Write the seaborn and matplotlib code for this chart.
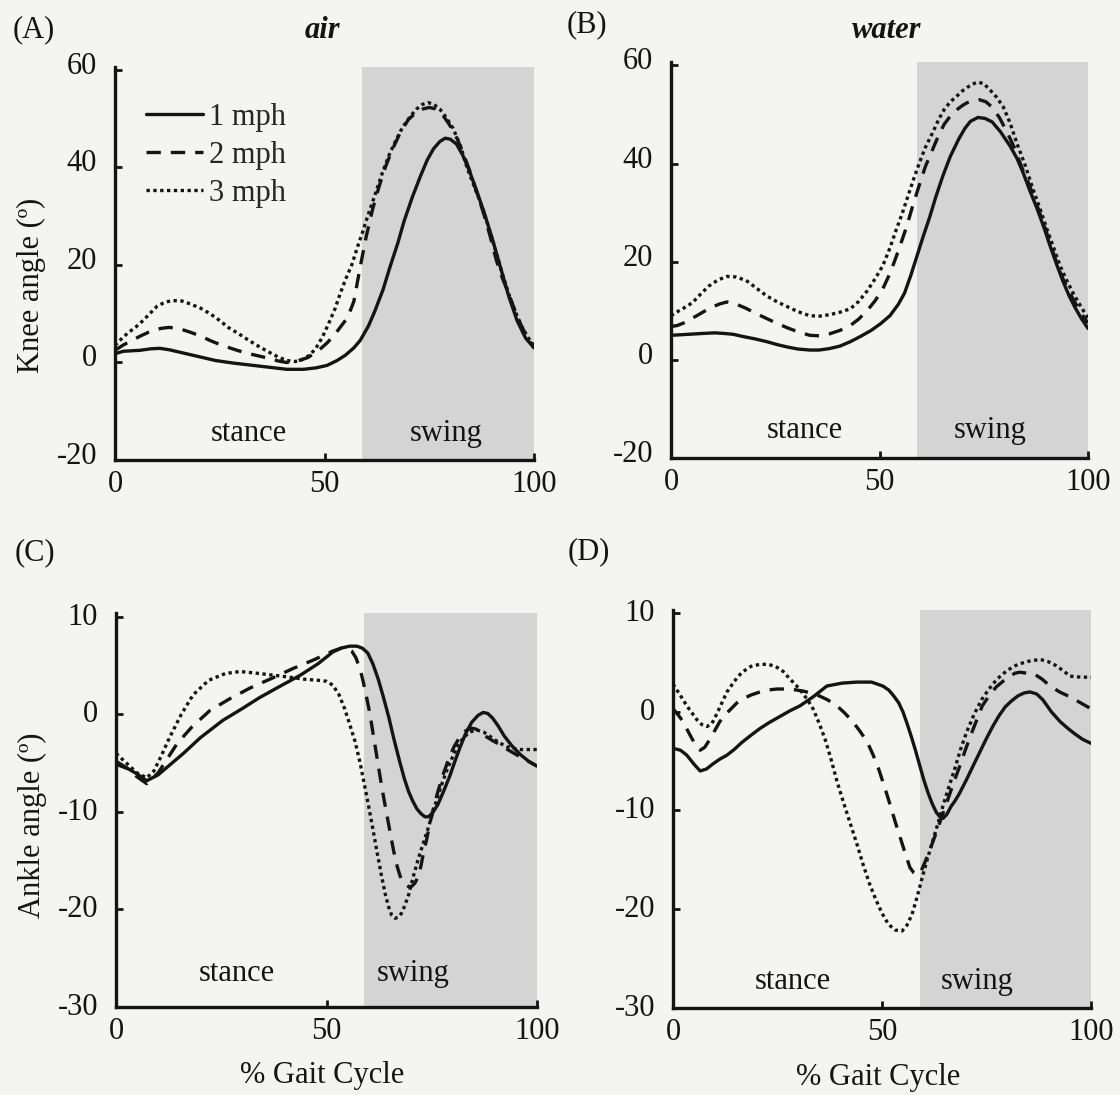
import matplotlib

matplotlib.use("Agg")

import matplotlib.pyplot as plt
import matplotlib.transforms as mtransforms
from matplotlib.lines import Line2D
import pandas as pd
import seaborn as sns

SPEEDS = ["1 mph", "2 mph", "3 mph"]
SWING_START = 59

# knee, air
knee_air_x1 = [0, 2, 4, 6, 8.5, 10.7, 13, 16, 20, 24, 28, 32, 36, 41, 45, 48, 50.6, 53, 55, 57, 58.5, 60.5, 62, 64, 65.6, 67.5, 69, 71, 72.8, 74.5, 76, 77.5, 78.8, 80, 81.5, 83, 84.5, 86.4, 88, 90, 92, 94, 96, 98, 100]
knee_air_y1 = [1.8, 2.3, 2.4, 2.5, 2.8, 2.9, 2.6, 2.0, 1.2, 0.4, -0.1, -0.5, -0.9, -1.4, -1.4, -1.1, -0.6, 0.4, 1.5, 3.0, 4.5, 7.5, 10.5, 15, 19.5, 24.5, 29, 34, 38, 41.5, 43.8, 45.3, 46, 45.8, 44.8, 42.5, 39.5, 35, 31, 25.5, 19.5, 13.5, 8.5, 5, 3]
knee_air_x2 = [0, 2, 4, 6, 8, 11, 13, 15.5, 18, 20.5, 22.7, 25, 27, 29.5, 32, 34.5, 37, 39, 41, 43.5, 46, 48.5, 50.6, 52.5, 54, 55.5, 57, 58.5, 60, 61.5, 63, 64.5, 66, 68, 70, 72, 73.5, 75, 76.5, 78, 79.8, 81.6, 83.3, 85, 86.5, 88, 89.5, 91, 92.5, 94, 95.5, 97, 98.5, 100]
knee_air_y2 = [2.5, 3.6, 4.5, 5.4, 6.2, 7.0, 7.2, 6.9, 6.2, 5.4, 4.5, 3.7, 3.1, 2.4, 1.8, 1.3, 0.8, 0.3, 0, 0.3, 1.0, 2.4, 4, 5.8, 7.5, 9.2, 12.5, 19.5, 26, 31.5, 36, 40, 43.3, 47, 49.8, 51.4, 52, 52.3, 52, 51, 48.8, 46, 42.5, 38.5, 34.5, 30.5, 26, 21, 17.2, 14, 10.5, 7.5, 5, 3]
knee_air_x3 = [0, 1.5, 3, 5, 6.7, 8.5, 10, 12, 13.8, 16, 18, 20.5, 22.7, 25, 27, 29.5, 32, 34.5, 37, 39, 41, 43, 44.5, 46.5, 48, 49.5, 51, 52.5, 53.7, 55, 56.5, 58, 59, 60.3, 61.5, 62.8, 64, 65.5, 67, 68.5, 69.7, 71, 72, 73.3, 74.7, 76, 77.5, 79, 80.7, 82.5, 84, 86, 88, 89.5, 91, 92.5, 94, 95.5, 97, 98.5, 100]
knee_air_y3 = [3.5, 4.8, 6, 7.3, 8.6, 10.2, 11.5, 12.4, 12.7, 12.6, 12, 11.1, 10, 8.6, 7.2, 5.9, 4.5, 3.2, 2.0, 1.1, 0.4, 0.2, 0.5, 1.5, 3, 5.2, 8, 11, 14, 17, 20, 24, 26.5, 30, 33, 36.3, 39.4, 42.7, 45.5, 48, 49.6, 51, 52, 52.9, 53.3, 53, 52, 50.3, 48, 44.3, 40, 35.5, 31, 26.8, 22.5, 18, 14, 10.5, 7.5, 5.2, 3.5]

# knee, water
knee_wat_x1 = [0, 2, 4, 6, 8, 10.5, 12.5, 15, 17, 20, 23, 25.5, 28, 30.5, 33.3, 35.5, 38, 40.5, 43, 45.5, 48, 50.3, 52.5, 54.5, 56, 57.5, 59, 60.5, 62, 63.5, 65.2, 67, 69, 70.5, 71.8, 73.6, 75.3, 77, 79, 81.3, 83, 84.5, 86, 87.8, 89.5, 91, 92.5, 94, 95.5, 97, 98.5, 100]
knee_wat_y1 = [5, 5.1, 5.2, 5.3, 5.4, 5.5, 5.4, 5.2, 4.8, 4.3, 3.7, 3.1, 2.6, 2.2, 2.0, 2.0, 2.3, 2.8, 3.7, 4.8, 6, 7.4, 9, 11.3, 13.6, 17.2, 21.2, 25.2, 29, 33.2, 37.5, 41.5, 45, 47.2, 48.6, 49.4, 49.2, 48.5, 46.5, 43.6, 41, 38, 34.6, 30.8, 26.8, 23, 19.4, 16, 13, 10.5, 8.3, 6.4]
knee_wat_x2 = [0, 1.5, 3, 4.5, 6.2, 8, 10, 11.7, 13.4, 15.5, 18, 20.5, 23, 25.5, 28, 30.5, 33.3, 35.5, 38, 40.5, 43, 45, 47, 49, 50.8, 52.5, 54, 55.4, 56.6, 58, 59.5, 61, 62.8, 64.2, 65.5, 67, 68.6, 70, 71, 72.5, 74, 75.5, 77, 78.8, 80.6, 82.3, 84, 86, 87.8, 89.5, 91, 92.5, 94, 95.5, 97, 98.5, 100]
knee_wat_y2 = [6.8, 7.0, 7.5, 8.2, 9, 9.9, 10.8, 11.4, 11.8, 11.4, 10.5, 9.4, 8.4, 7.4, 6.5, 5.7, 5, 4.9, 5.3, 6.0, 7, 8.3, 10, 12.1, 14.5, 17.6, 21, 24.4, 27.4, 31.5, 35.5, 39.4, 43, 45.8, 48, 49.7, 51, 51.9, 52.4, 52.8, 53, 52.6, 51.5, 49.3, 46.4, 43.3, 39.5, 35.5, 31.4, 27.4, 23.5, 19.8, 16.5, 13.8, 11.5, 9.3, 7.5]
knee_wat_x3 = [0, 1.3, 2.5, 4, 5.3, 7, 9, 11.3, 13.4, 15.5, 18, 20.5, 23, 25.5, 28, 30.5, 33.3, 35.5, 38, 40.5, 43, 45, 47, 49, 50.8, 52.5, 54, 55.4, 56.6, 58, 59.5, 61, 62.8, 64.2, 65.5, 67, 68.6, 70, 71, 72.3, 73.6, 75, 76.5, 78, 79.6, 81.3, 83, 85, 86.8, 88.5, 90, 91.7, 93.3, 95, 96.5, 98.2, 100]
knee_wat_y3 = [9, 9.7, 10.3, 11, 11.8, 13.3, 15, 16.3, 17, 16.9, 16.2, 14.6, 13, 11.8, 10.8, 9.8, 9, 8.9, 9.2, 9.7, 10.4, 11.9, 14, 16.6, 19.2, 22.8, 26.5, 29.7, 32.8, 36.4, 40, 43.3, 46.4, 49, 51, 52.6, 53.8, 54.9, 55.5, 56.2, 56.6, 56.3, 55, 53.6, 51.7, 48.3, 44, 39.5, 34.8, 30.8, 27, 23, 19.2, 16, 13.5, 11, 8.5]

# ankle, air
ank_air_x1 = [0, 3, 5, 7.3, 10, 13, 16, 20, 25.4, 30, 34, 39, 43.7, 48, 51.5, 53.5, 55.5, 57.2, 58.5, 59.8, 61, 62.3, 63.5, 64.8, 66, 67.3, 68.5, 69.5, 70.5, 71.5, 72.5, 73.4, 74.2, 75.2, 76.5, 77.8, 79.3, 80.5, 81.7, 83, 84.5, 86, 87.2, 88.3, 89.5, 90.8, 92.2, 94, 96, 98, 100]
ank_air_y1 = [-5.1, -5.6, -6.1, -6.8, -6.2, -5.1, -4, -2.4, -0.6, 0.6, 1.7, 2.9, 4, 5.2, 6.4, 6.8, 7.0, 7.0, 6.8, 6.3, 5.2, 3.6, 1.8, -0.3, -2.5, -4.7, -6.6, -7.9, -8.9, -9.7, -10.2, -10.5, -10.5, -10.1, -9.2, -7.9, -6.3, -4.8, -3.4, -2.0, -0.8, -0.1, 0.2, 0.1, -0.4, -1.2, -2.2, -3.2, -4.1, -4.8, -5.3]
ank_air_x2 = [0, 3, 5, 7.3, 10, 14.5, 18, 22.3, 27, 31.8, 37, 42, 47, 51.5, 53.5, 54.8, 56, 57, 58, 58.7, 59.5, 60.3, 61, 61.8, 62.5, 63.4, 64.3, 65.2, 66, 66.8, 67.5, 68.3, 69, 69.7, 70.3, 71, 71.8, 72.4, 73, 73.8, 74.5, 75.3, 76.2, 77.5, 79, 80.3, 81.7, 83, 84.3, 85.5, 86.5, 88, 89.5, 91.2, 93, 95, 97.5, 100]
ank_air_y2 = [-4.8, -5.6, -6.4, -7.1, -6, -3, -1.3, 0.4, 1.6, 2.7, 3.7, 4.7, 5.6, 6.5, 6.8, 6.8, 6.5, 5.8, 4.6, 3.4, 1.8, 0.1, -1.8, -3.9, -5.8, -8.1, -10.2, -12.3, -14.1, -15.6, -16.6, -17.2, -17.5, -17.7, -17.6, -17.3, -16.6, -15.6, -14.3, -12.8, -11.3, -9.8, -8.3, -6.4, -4.6, -3.3, -2.3, -1.7, -1.4, -1.5, -1.8, -2.3, -2.7, -3.1, -3.6, -4.1, -4.7, -5.3]
ank_air_x3 = [0, 3, 5, 7.3, 9, 10.7, 12.8, 15.5, 18.3, 22, 26, 29.5, 34, 39.7, 45, 48, 50, 51.5, 53, 54.3, 55.5, 56.8, 58, 59, 60, 61, 62, 63, 64, 64.8, 65.5, 66.3, 67, 67.8, 68.5, 69.5, 70.5, 71.8, 73, 74.2, 75.3, 76.5, 77.5, 78.7, 80, 81.2, 82.5, 84, 85.7, 87.3, 89, 91, 92.8, 94.5, 96, 98, 100]
ank_air_y3 = [-4, -5.2, -6, -6.5, -5.8, -4.3, -2.3, 0, 2, 3.5, 4.2, 4.4, 4.2, 3.9, 3.6, 3.5, 3.4, 3.0, 2.0, 0.6, -1.0, -2.8, -5, -7.2, -9.4, -11.7, -14.1, -16.4, -18.5, -19.8, -20.6, -20.9, -20.8, -20.4, -19.7, -18.5, -16.8, -14.8, -13.2, -11.6, -10, -8.3, -7, -5.6, -4.3, -3.2, -2.4, -1.8, -1.6, -1.8, -2.3, -2.9, -3.3, -3.5, -3.6, -3.6, -3.6]

# ankle, water
ank_wat_x1 = [0, 1.8, 3.3, 5, 6.5, 8, 9.5, 11.2, 12.9, 14.7, 16.5, 18.6, 20.8, 23, 25.5, 28, 30.4, 33.5, 36.8, 40.5, 44, 47.5, 50.2, 51.6, 52.8, 54, 55, 56, 57, 58, 59, 60, 61, 62, 63, 63.8, 64.6, 65.5, 66.5, 67.5, 68.5, 70.3, 72, 73.5, 75, 76.6, 78, 79.5, 81, 82.5, 84, 85.4, 87, 88.5, 90.5, 92.6, 94.5, 96, 98, 100]
ank_wat_y1 = [-3.7, -3.9, -4.4, -5.3, -6, -5.8, -5.3, -4.8, -4.4, -3.8, -3.1, -2.4, -1.7, -1.1, -0.5, 0.1, 0.6, 1.5, 2.6, 2.9, 3, 3, 2.6, 2.2, 1.6, 0.9, 0, -1.2, -2.5, -3.9, -5.4, -6.9, -8.2, -9.3, -10.2, -10.6, -10.8, -10.4, -9.6, -9, -8.3, -6.8, -5.3, -4, -2.7, -1.4, -0.4, 0.5, 1.1, 1.6, 1.9, 2, 1.8, 1.2, 0, -1, -1.7, -2.2, -2.8, -3.2]
ank_wat_x2 = [0, 1.2, 2.4, 3.5, 4.5, 5.5, 6.5, 7.6, 8.8, 10, 11.2, 12.5, 13.9, 15.3, 16.7, 18.7, 20.8, 22.8, 24.9, 28, 31, 33, 35, 37, 39.2, 41, 42.8, 44.6, 46.4, 47.8, 49.2, 50.6, 52, 53.2, 54.4, 55.6, 56.7, 57.6, 58.4, 59.4, 60.5, 61.8, 63.1, 64.5, 65.9, 67.3, 68.7, 70, 71.3, 72.7, 74, 75.6, 77.3, 79, 80.6, 81.8, 83, 84.7, 86.5, 88.3, 90.2, 92.5, 95, 97.5, 100]
ank_wat_y2 = [0.3, -0.3, -1, -1.9, -2.7, -3.4, -3.9, -3.6, -2.8, -1.9, -1, -0.3, 0.3, 0.9, 1.3, 1.7, 2, 2.2, 2.3, 2.3, 2.1, 1.9, 1.6, 1.2, 0.6, -0.1, -0.9, -1.9, -3, -4.3, -5.8, -7.6, -9.5, -11.2, -12.8, -14.4, -15.8, -16.3, -16.5, -16.1, -15, -13.6, -12.1, -10.4, -8.7, -7, -5.4, -3.8, -2.3, -0.8, 0.6, 1.6, 2.5, 3.1, 3.6, 3.9, 4, 3.9, 3.8, 3.3, 2.6, 2.0, 1.5, 0.9, 0.3]
ank_wat_x3 = [0, 1.7, 3.3, 4.5, 5.7, 6.9, 8.1, 9.3, 10.5, 11.7, 12.9, 14.7, 16.5, 18.7, 20.8, 22.7, 24.5, 26.3, 28, 29.4, 30.8, 32.2, 33.5, 35, 36.4, 37.8, 39.2, 40.8, 42.4, 44, 45.5, 47, 48.5, 50, 51.5, 53.1, 54.8, 56, 57.2, 58.5, 59.8, 61, 62.2, 63.4, 64.6, 66, 67.4, 68.8, 70.3, 72, 73.8, 75.6, 77.5, 80, 82.5, 85, 87.8, 89.6, 91.5, 93.2, 95, 97.5, 100]
ank_wat_y3 = [2.8, 1.7, 0.6, -0.1, -0.8, -1.3, -1.5, -1.2, -0.2, 0.9, 2, 3.1, 4, 4.6, 4.8, 4.8, 4.6, 4.1, 3.3, 2.7, 2.0, 1.2, 0.3, -1.2, -2.8, -4.8, -7, -9.2, -11.3, -13.4, -15.5, -17.4, -19, -20.4, -21.5, -22.1, -22.2, -21.6, -20.5, -18.6, -16.5, -14.7, -13, -11.3, -9.5, -7.6, -5.8, -3.8, -2, -0.3, 1.2, 2.3, 3.3, 4.2, 4.8, 5.1, 5.3, 5.1, 4.7, 4.2, 3.6, 3.5, 3.5]

KNEE_TICKS = [-20, 0, 20, 40, 60]
ANKLE_TICKS = [-30, -20, -10, 0, 10]

INK = "#141414"
SHADE = "#d4d4d4"
PAPER = "#f4f4f3"
LW = 2.4
FS = 22
DASHES = {"1 mph": "", "2 mph": (4.3, 3.0), "3 mph": (1.0, 1.05)}


def _frame(xs, ys):
    parts = [pd.DataFrame({"pct": x, "angle": y, "speed": s}) for s, x, y in zip(SPEEDS, xs, ys)]
    return pd.concat(parts, ignore_index=True)


def _panel(ax, df, yticks, ylim, stance_xy, swing_xy, label_shift):
    ax.axvspan(SWING_START, 100, color=SHADE, lw=0, zorder=0)
    sns.lineplot(data=df, x="pct", y="angle", style="speed", dashes=DASHES, color=INK,
                 lw=LW, estimator=None, sort=False, legend=False, ax=ax,
                 solid_joinstyle="round", dash_joinstyle="round")
    ax.set_xlim(0, 100)
    ax.set_ylim(*ylim)
    ax.set_xticks([0, 50, 100])
    ax.set_yticks(yticks)
    ax.set_xlabel("")
    ax.set_ylabel("")
    ax.set_facecolor("none")
    sns.despine(ax=ax)
    for side in ("left", "bottom"):
        ax.spines[side].set_linewidth(2.4)
        ax.spines[side].set_color(INK)
    ax.tick_params(direction="in", length=5, width=2.0, color=INK, labelsize=FS, labelcolor=INK)
    ax.tick_params(axis="y", pad=13)
    ax.tick_params(axis="x", pad=7)
    shift = mtransforms.ScaledTranslation(0, label_shift / 100, ax.figure.dpi_scale_trans)
    for lab in ax.get_yticklabels():
        lab.set_transform(lab.get_transform() + shift)
    ax.text(*stance_xy, "stance", ha="center", va="center", fontsize=FS, color=INK)
    ax.text(*swing_xy, "swing", ha="center", va="center", fontsize=FS, color=INK)


sns.set_style("ticks")
plt.rcParams["font.family"] = ["Liberation Serif", "DejaVu Serif"]
plt.rcParams["axes.unicode_minus"] = False

fig = plt.figure(figsize=(11.2, 10.95), dpi=100, facecolor=PAPER)
W, H = 1120, 1095


def _axes(left, right, top, bottom):
    return fig.add_axes([left / W, 1 - bottom / H, (right - left) / W, (bottom - top) / H])


axA = _axes(115, 534, 67, 460)
axB = _axes(671, 1088, 62, 458)
axC = _axes(116, 537, 613, 1007)
axD = _axes(673, 1091, 610, 1008)

_panel(axA, _frame([knee_air_x1, knee_air_x2, knee_air_x3], [knee_air_y1, knee_air_y2, knee_air_y3]),
       KNEE_TICKS, (-20, 60.6), (32, -14.6), (79, -14.6), 7)
_panel(axB, _frame([knee_wat_x1, knee_wat_x2, knee_wat_x3], [knee_wat_y1, knee_wat_y2, knee_wat_y3]),
       KNEE_TICKS, (-20, 60.7), (32, -14.3), (76.5, -14.3), 7)
_panel(axC, _frame([ank_air_x1, ank_air_x2, ank_air_x3], [ank_air_y1, ank_air_y2, ank_air_y3]),
       ANKLE_TICKS, (-30, 10.4), (28.7, -26.6), (70.5, -26.6), 3)
_panel(axD, _frame([ank_wat_x1, ank_wat_x2, ank_wat_x3], [ank_wat_y1, ank_wat_y2, ank_wat_y3]),
       ANKLE_TICKS, (-30, 10.3), (28.7, -27.3), (72.7, -27.3), 3)

axA.set_ylabel("Knee angle (º)", fontsize=FS, color=INK)
axA.yaxis.set_label_coords(-0.165, 0.445)
axC.set_ylabel("Ankle angle (º)", fontsize=FS, color=INK)
axC.yaxis.set_label_coords(-0.165, 0.462)
for ax in (axC, axD):
    ax.set_xlabel("% Gait Cycle", fontsize=FS, color=INK)
    ax.xaxis.set_label_coords(0.49, -0.138)

handles = [Line2D([], [], color=INK, lw=LW) for _ in SPEEDS]
handles[1].set_dashes(DASHES["2 mph"])
handles[2].set_dashes(DASHES["3 mph"])
axA.legend(handles, SPEEDS, loc="upper left", bbox_to_anchor=(0.045, 0.94), frameon=False,
           fontsize=FS, handlelength=1.85, handletextpad=0.2, labelspacing=0.3, borderaxespad=0)

for txt, px, py in [("(A)", 13, 30), ("(B)", 567, 25), ("(C)", 15, 553), ("(D)", 568, 552)]:
    fig.text(px / W, 1 - py / H, txt, ha="left", va="center", fontsize=FS, color=INK)
fig.text(322 / W, 1 - 31 / H, "air", ha="center", va="center", fontsize=FS,
         fontweight="bold", fontstyle="italic", color=INK)
fig.text(887 / W, 1 - 30 / H, "water", ha="center", va="center", fontsize=FS,
         fontweight="bold", fontstyle="italic", color=INK)

fig.savefig("out.png", dpi=100, facecolor=PAPER)
